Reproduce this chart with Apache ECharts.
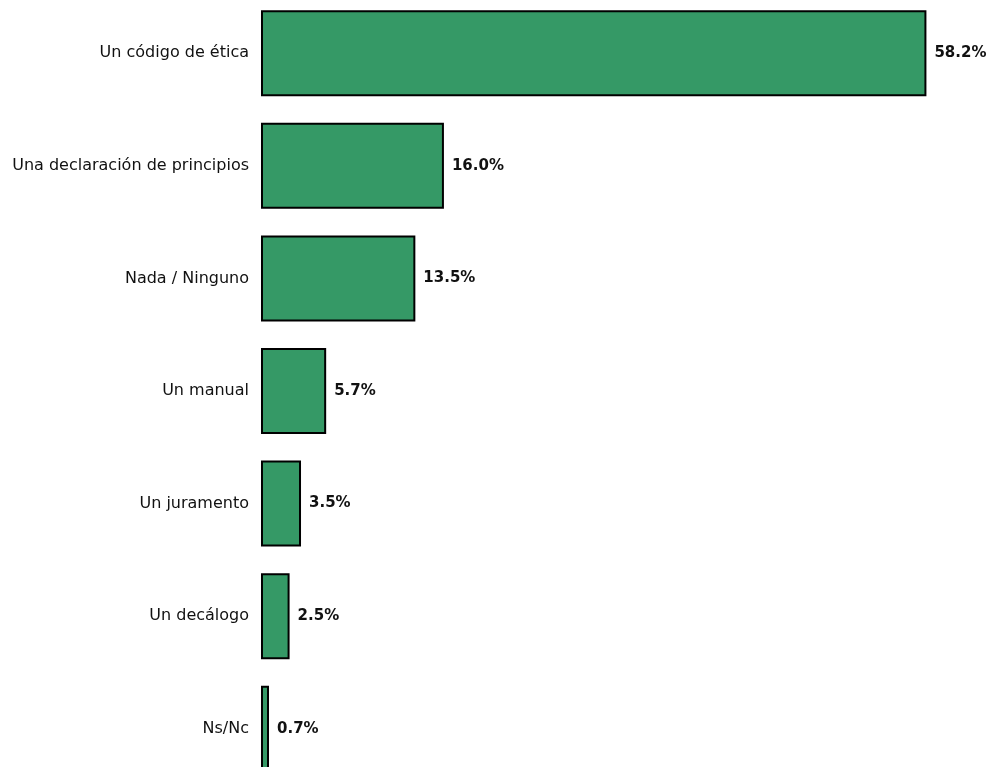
<!DOCTYPE html>
<html><head><meta charset="utf-8">
<script src="https://cdn.jsdelivr.net/npm/echarts@6/dist/echarts.min.js"></script>
<style>html,body{margin:0;padding:0;background:#fff}#c{width:989px;height:767px}</style>
</head><body><div id="c"></div>
<script>
const categories = ["Un código de ética","Una declaración de principios","Nada / Ninguno","Un manual","Un juramento","Un decálogo","Ns/Nc"];
const values = [58.2,16.0,13.5,5.7,3.5,2.5,0.7];
const chart = echarts.init(document.getElementById('c'));
chart.setOption({
  animation:false,
  grid:{left:261,top:-3,width:686,height:788,outerBoundsMode:'none',containLabel:false},
  xAxis:{type:'value',min:0,max:60,show:false},
  yAxis:{type:'category',data:categories,inverse:true,
    axisLine:{show:false},axisTick:{show:false},
    axisLabel:{margin:12,color:'#111',fontFamily:'DejaVu Sans',fontSize:16,padding:[0,0,4,0]}},
  series:[{type:'bar',data:values,barWidth:86,
    itemStyle:{color:'#359966',borderColor:'#000',borderWidth:2},
    label:{show:true,position:'right',distance:8,fontFamily:'DejaVu Sans',fontWeight:'bold',fontSize:15,color:'#111',
      formatter:p=>p.value.toFixed(1)+'%'}}]
});
</script></body></html>
